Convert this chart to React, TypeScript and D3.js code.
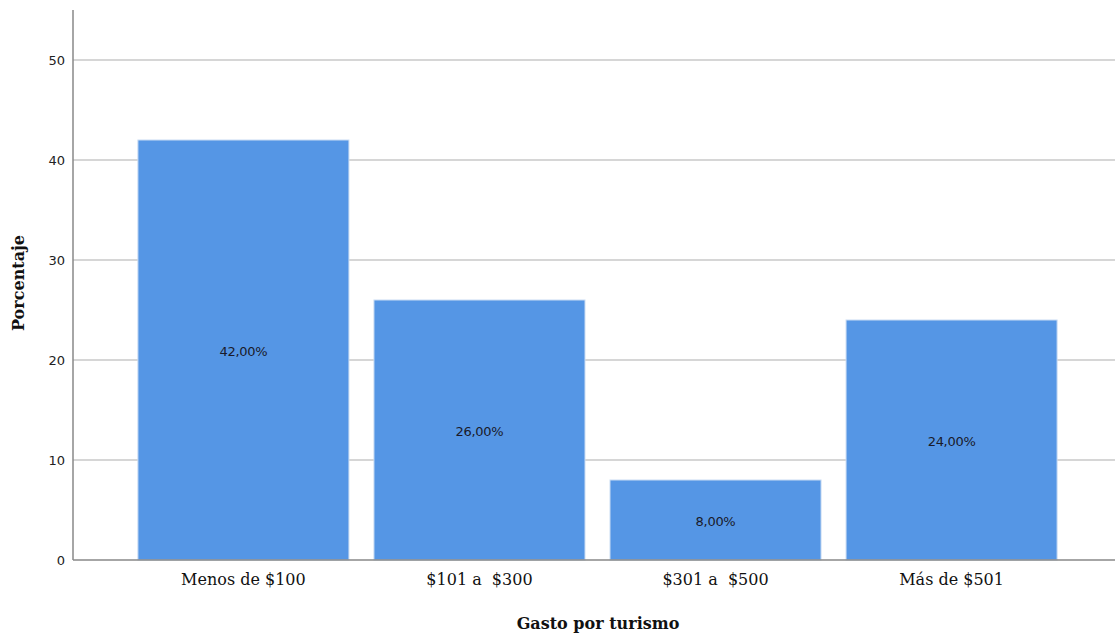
import React from "react";
import * as d3 from "d3";

const categories = ["Menos de $100", "$101 a  $300", "$301 a  $500", "Más de $501"];
const values = [42, 26, 8, 24];
const valueLabels = ["42,00%", "26,00%", "8,00%", "24,00%"];
const yTicks = [0, 10, 20, 30, 40, 50];

export default function App() {
  const W = 1115, H = 635;
  const x0 = 73, x1 = 1115, yTop = 10, yBottom = 560;
  const y = d3.scaleLinear().domain([0, 55]).range([yBottom, yTop]);
  const x = d3.scaleBand<string>().domain(categories).range([x0, 1122]).paddingInner(0.106).paddingOuter(0.275);
  const bw = x.bandwidth();
  return (
    <svg width={W} height={H} style={{ position: "absolute", left: 0, top: 0, background: "#fff" }}>
      {yTicks.map((t) => (
        <g key={t}>
          {t > 0 && <line x1={x0} x2={x1} y1={y(t)} y2={y(t)} stroke="#c8c8c8" strokeWidth={1.5} />}
          <text x={x0 - 8} y={y(t)} dy="0.35em" textAnchor="end" fontFamily="DejaVu Sans, sans-serif" fontSize={13} fill="#222">{t}</text>
        </g>
      ))}
      {categories.map((c, i) => (
        <g key={c}>
          <rect x={x(c)} y={y(values[i])} width={bw} height={yBottom - y(values[i])} fill="#5596E5" stroke="#c9dcf3" strokeWidth={1} />
          <text x={x(c)! + bw / 2} y={(y(values[i]) + yBottom) / 2 + 1} dy="0.35em" textAnchor="middle" fontFamily="DejaVu Sans, sans-serif" fontSize={13} letterSpacing={-0.3} fill="#1a1a2a">{valueLabels[i]}</text>
          <text x={x(c)! + bw / 2} y={585} textAnchor="middle" fontFamily="DejaVu Serif, serif" fontSize={16} fill="#111" style={{ whiteSpace: "pre" }}>{c}</text>
        </g>
      ))}
      <line x1={x0} x2={x1} y1={yBottom} y2={yBottom} stroke="#888" strokeWidth={1.5} />
      <line x1={x0} x2={x0} y1={yTop} y2={yBottom} stroke="#888" strokeWidth={1.5} />
      <text x={598} y={629} textAnchor="middle" fontFamily="DejaVu Serif, serif" fontSize={16} fontWeight="bold" fill="#111">Gasto por turismo</text>
      <text transform={`translate(24, 283) rotate(-90)`} textAnchor="middle" fontFamily="DejaVu Serif, serif" fontSize={16} fontWeight="bold" fill="#111">Porcentaje</text>
    </svg>
  );
}
